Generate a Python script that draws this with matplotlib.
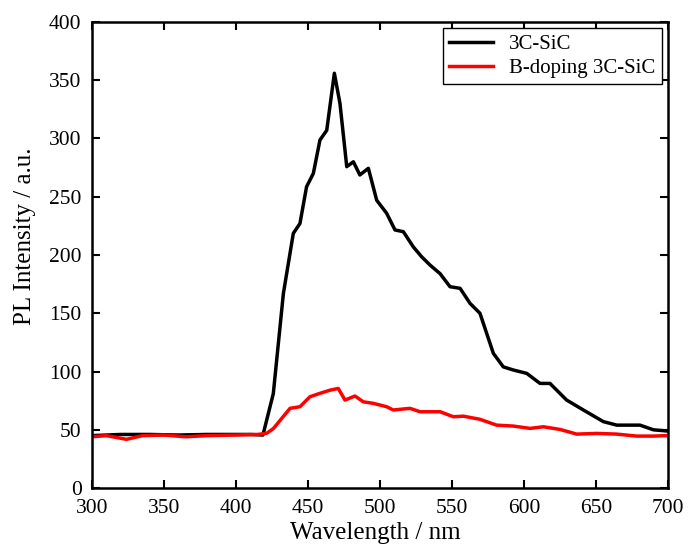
import matplotlib.pyplot as plt
import numpy as np

plt.rcParams['font.family'] = ['Liberation Serif', 'DejaVu Serif']

# 3C-SiC (black)
wl_sic = [300, 320, 340, 360, 380, 400, 410, 418.7, 425.9, 432.9, 439.8, 444.4, 449, 453.7,
          458.3, 463, 468.3, 472.2, 476.9, 481.5, 486, 491.9, 497.7, 504.6, 510.4, 516.2,
          523.1, 528.9, 534.7, 541.7, 548.6, 555.6, 562.5, 569.4, 578.7, 585.6, 592.6, 601.9,
          611.1, 618, 629.6, 641.2, 655.1, 664.4, 680.5, 689.8, 699]
pl_sic = [45, 46, 46, 45.5, 46, 46, 46, 45.5, 81, 167, 218.6, 227, 258.6, 270,
          298.7, 307, 356, 330, 275.8, 280, 268.7, 274.4, 247, 235.8, 221.5, 220,
          207, 198.5, 191.4, 184, 172.8, 171.4, 158.5, 150, 115.6, 104, 101.3, 98.4,
          89.8, 89.8, 75.5, 67, 57, 54, 54, 50, 49]

# B-doping 3C-SiC (red)
wl_b = [300, 310, 324, 335, 350, 365, 380, 400, 415, 421.3, 425.9, 437.5, 444.4, 451.4,
        458.3, 465.3, 471, 475.7, 482.6, 488.4, 495.3, 504.6, 509.2, 520.8, 527.8, 541.7,
        550.9, 557.9, 569.4, 581, 592.6, 604.2, 613.4, 625, 636.6, 650.5, 664.4, 678.2,
        689.8, 699]
pl_b = [44, 45, 41.8, 45, 45.5, 44, 45, 45.5, 46, 47, 51, 68.4, 69.8, 78.4,
        81.3, 84, 85.5, 75.5, 79, 74, 72.7, 69.8, 67, 68.4, 65.5, 65.5,
        61.2, 61.7, 59, 54, 53.2, 51.2, 52.6, 50.3, 46.3, 46.9, 46.3, 44.6,
        44.6, 45]

fig = plt.figure(figsize=(6.88, 5.49), dpi=100)
ax = fig.add_axes([0.1337, 0.111, 0.8373, 0.849])

ax.plot(wl_sic, pl_sic, color='black', lw=2.5, label='3C-SiC')
ax.plot(wl_b, pl_b, color='red', lw=2.5, label='B-doping 3C-SiC')

ax.set_xlim(300, 700)
ax.set_ylim(0, 400)
ax.set_xticks(np.arange(300, 701, 50))
ax.set_yticks(np.arange(0, 401, 50))
ax.tick_params(direction='in', length=6, width=1.5, labelsize=15.5,
               top=True, right=True)
ax.tick_params(axis='x', pad=8)
ax.tick_params(axis='y', pad=7.5)
for s in ax.spines.values():
    s.set_linewidth(1.8)

ax.set_xlabel('Wavelength / nm', fontsize=18)
ax.set_ylabel('PL Intensity / a.u.', fontsize=18)
ax.xaxis.set_label_coords(0.491, -0.073)
ax.yaxis.set_label_coords(-0.097, 0.54)

leg = ax.legend(loc='upper right', fontsize=15, fancybox=False, framealpha=1,
                edgecolor='black', borderpad=0.3, handlelength=2.1,
                labelspacing=0.2, borderaxespad=0.3)
leg.get_frame().set_linewidth(1.0)

fig.savefig('out.png', dpi=100)
